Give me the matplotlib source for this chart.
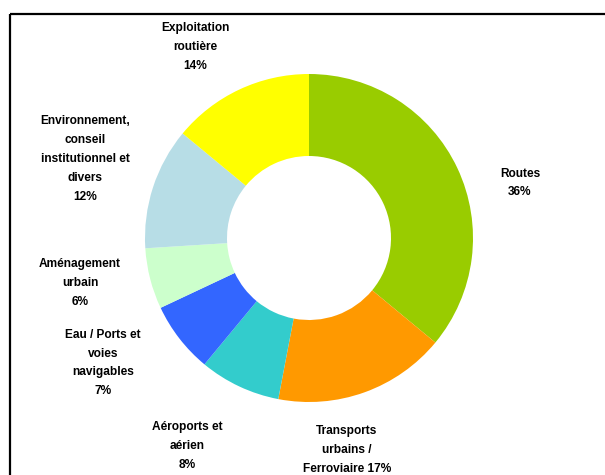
import matplotlib
matplotlib.use("Agg")
import matplotlib.pyplot as plt

# shares of activity, clockwise from 12 o'clock
names = [
    "Routes",
    "Transports\nurbains /\nFerroviaire",
    "Aéroports et\naérien",
    "Eau / Ports et\nvoies\nnavigables",
    "Aménagement\nurbain",
    "Environnement,\nconseil\ninstitutionnel et\ndivers",
    "Exploitation\nroutière",
]
values = [36, 17, 8, 7, 6, 12, 14]
seps = ["\n", " ", "\n", "\n", "\n", "\n", "\n"]
colors = ["#99cc00", "#ff9900", "#33cccc", "#3366ff", "#ccffcc", "#b7dde6", "#ffff00"]

# label centres in pixels (x, y from top)
label_pos = [(520, 183), (347, 450), (187, 446), (103, 363), (80, 283), (85, 159), (195, 47)]

W, H = 605, 475
fig = plt.figure(figsize=(W / 100, H / 100), dpi=100)
ax = fig.add_axes([0, 0, 1, 1])

R = 164
ax.pie(values, colors=colors, startangle=90, counterclock=False,
       center=(309, H - 238), radius=R,
       wedgeprops=dict(width=R * 0.5, edgecolor="none"),
       frame=True)
ax.set_xlim(0, W)
ax.set_ylim(0, H)
ax.set_aspect("auto")
ax.axis("off")

for n, s, v, (x, y) in zip(names, seps, values, label_pos):
    ax.text(x, H - y, f"{n}{s}{v}%", ha="center", va="center",
            fontsize=8.6, fontweight="bold", family="Liberation Sans",
            linespacing=1.75)

# frame: only top and left edges show
ax.plot([10, W], [H - 14, H - 14], color="black", lw=1.6, solid_capstyle="butt")
ax.plot([10, 10], [H - 14, 0], color="black", lw=1.6, solid_capstyle="butt")

fig.savefig("out.png", dpi=100)
